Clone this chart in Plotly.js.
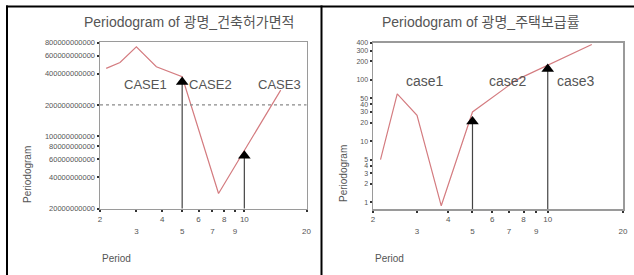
<!DOCTYPE html>
<html><head><meta charset="utf-8">
<script src="https://cdn.plot.ly/plotly-3.0.1.min.js"></script>
<style>html,body{margin:0;padding:0;background:#fff}#chart{width:634px;height:275px}</style>
</head><body><div id="chart"></div>
<script>
// ---- data ----
const periods = [2.143, 2.5, 3, 3.75, 5, 7.5, 15];
const permitArea = [451e9, 514e9, 726e9, 467e9, 374e9, 27.9e9, 278e9];   // 광명_건축허가면적
const supplyRate = [4.98, 59, 26.4, 0.88, 29.9, 100, 377];              // 광명_주택보급률
const casePeriods = [5, 10];
const permitCaseMarks = [333e9, 64.6e9];
const supplyCaseMarks = [21, 151];
const permitRefLine = 200e9;
const permitCaseLabels = ['CASE1', 'CASE2', 'CASE3'];
const supplyCaseLabels = ['case1', 'case2', 'case3'];
const titles = ['Periodogram of 광명_건축허가면적', 'Periodogram of 광명_주택보급률'];
const xTickVals = [2, 3, 4, 5, 6, 7, 8, 9, 10, 20];
const xTickRow1 = ['2', '', '4', '', '6', '', '8', '', '10', ''];
const xTickRow2Vals = [3, 5, 7, 9, 20];
const xTickRow2Text = ['3', '5', '7', '9', '20'];
const permitTickVals = [20e9, 40e9, 60e9, 80e9, 100e9, 200e9, 400e9, 600e9, 800e9];
const permitTickText = ['20000000000', '40000000000', '60000000000', '80000000000', '100000000000', '200000000000', '400000000000', '600000000000', '800000000000'];
const supplyTickVals = [1, 2, 3, 4, 5, 10, 20, 30, 40, 50, 100, 200, 300, 400];
const supplyTickText = ['1', '2', '3', '4', '5', '10', '20', '30', '40', '50', '100', '200', '300', '400'];

// ---- styling ----
const FONT = 'Liberation Sans, Arial, Noto Sans CJK KR, sans-serif';
const W = 634, H = 275;
const px = v => v / W, py = v => 1 - v / H;
const lineColor = '#d47c80';
const frame = '#9a9a9a';
const textGrey = '#555';

const leftDom = [px(100), px(306.5)];
const rightDom = [px(373), px(623)];
const yDomL = [py(208.5), py(42)];
const yDomR = [py(209), py(42.5)];

function xAxis(dom, anchor) {
  return {domain: dom, anchor: anchor, type: 'log', range: [Math.log10(2), Math.log10(20)],
    tickvals: xTickVals, ticktext: xTickRow1, ticks: 'outside', ticklen: 2, tickwidth: 2, tickcolor: '#333',
    showline: true, linecolor: frame, linewidth: 1.5, mirror: true, showgrid: false, zeroline: false,
    tickfont: {family: FONT, size: 8, color: textGrey}};
}
function xAxis2(dom, anchor, overlay) {
  return {domain: dom, anchor: anchor, overlaying: overlay, type: 'log', range: [Math.log10(2), Math.log10(20)],
    tickvals: xTickRow2Vals, ticktext: xTickRow2Text, ticks: '', showline: false, showgrid: false, zeroline: false,
    ticklabelstandoff: 16, tickfont: {family: FONT, size: 8, color: textGrey}};
}

const traces = [];
traces.push({x: periods, y: permitArea, xaxis: 'x', yaxis: 'y', mode: 'lines', line: {color: lineColor, width: 1.2}, hoverinfo: 'skip'});
traces.push({x: periods, y: supplyRate, xaxis: 'x2', yaxis: 'y2', mode: 'lines', line: {color: lineColor, width: 1.2}, hoverinfo: 'skip'});
// transparent copies so the overlay (second tick row) axes are drawn
traces.push({x: periods, y: permitArea, xaxis: 'x3', yaxis: 'y', mode: 'lines', line: {width: 0}, opacity: 0, hoverinfo: 'skip'});
traces.push({x: periods, y: supplyRate, xaxis: 'x4', yaxis: 'y2', mode: 'lines', line: {width: 0}, opacity: 0, hoverinfo: 'skip'});

const lowL = 1e9, lowR = 0.01;
casePeriods.forEach((p, i) => {
  traces.push({x: [p, p], y: [lowL, permitCaseMarks[i]], xaxis: 'x', yaxis: 'y', mode: 'lines', line: {color: '#444', width: 1.2}, hoverinfo: 'skip'});
  traces.push({x: [p, p], y: [lowR, supplyCaseMarks[i]], xaxis: 'x2', yaxis: 'y2', mode: 'lines', line: {color: '#444', width: 1.2}, hoverinfo: 'skip'});
});
traces.push({x: casePeriods, y: permitCaseMarks, xaxis: 'x', yaxis: 'y', mode: 'markers', marker: {symbol: 'triangle-up', size: 11, color: '#000'}, hoverinfo: 'skip'});
traces.push({x: casePeriods, y: supplyCaseMarks, xaxis: 'x2', yaxis: 'y2', mode: 'markers', marker: {symbol: 'triangle-up', size: 11, color: '#000'}, hoverinfo: 'skip'});

const annotations = [];
// titles
annotations.push({text: titles[0], xref: 'paper', yref: 'paper', x: px(189), y: py(22), xanchor: 'center', yanchor: 'middle', showarrow: false, font: {family: FONT, size: 14, color: textGrey}});
annotations.push({text: titles[1], xref: 'paper', yref: 'paper', x: px(481), y: py(22), xanchor: 'center', yanchor: 'middle', showarrow: false, font: {family: FONT, size: 14, color: textGrey}});
// axis titles
[[27, 175], [343, 174]].forEach(([ax, ay]) => annotations.push({text: 'Periodogram', textangle: -90, xref: 'paper', yref: 'paper', x: px(ax), y: py(ay), xanchor: 'center', yanchor: 'middle', showarrow: false, font: {family: FONT, size: 10, color: textGrey}}));
[[100, 258], [373, 258]].forEach(([ax, ay]) => annotations.push({text: 'Period', xref: 'paper', yref: 'paper', x: px(ax), y: py(ay), xanchor: 'left', yanchor: 'middle', showarrow: false, font: {family: FONT, size: 10, color: textGrey}}));
// case labels
const leftLabelPos = [[3.32, 312e9], [6.88, 312e9], [14.8, 312e9]];
const rightLabelPos = [[3.24, 97], [6.94, 97], [13.0, 97]];
permitCaseLabels.forEach((t, i) => annotations.push({text: t, xref: 'x', yref: 'y', x: Math.log10(leftLabelPos[i][0]), y: Math.log10(leftLabelPos[i][1]), xanchor: 'center', yanchor: 'middle', showarrow: false, font: {family: FONT, size: 13, color: textGrey}}));
supplyCaseLabels.forEach((t, i) => annotations.push({text: t, xref: 'x2', yref: 'y2', x: Math.log10(rightLabelPos[i][0]), y: Math.log10(rightLabelPos[i][1]), xanchor: 'center', yanchor: 'middle', showarrow: false, font: {family: FONT, size: 14, color: textGrey}}));

const shapes = [
  {type: 'line', xref: 'x domain', yref: 'y', x0: 0, x1: 1, y0: permitRefLine, y1: permitRefLine, line: {color: '#8a8a8a', width: 1.2, dash: 'dot'}},
  {type: 'line', xref: 'paper', yref: 'paper', x0: px(6), x1: 1, y0: py(6.5), y1: py(6.5), line: {color: '#000', width: 2}},
  {type: 'line', xref: 'paper', yref: 'paper', x0: px(7), x1: px(7), y0: 0, y1: py(5.5), line: {color: '#000', width: 2}},
  {type: 'line', xref: 'paper', yref: 'paper', x0: px(321.5), x1: px(321.5), y0: 0, y1: py(5.5), line: {color: '#000', width: 2}}
];

const layout = {
  width: W, height: H, margin: {l: 0, r: 0, t: 0, b: 0}, showlegend: false,
  paper_bgcolor: '#fff', plot_bgcolor: '#fff',
  xaxis: xAxis(leftDom, 'y'),
  xaxis2: xAxis(rightDom, 'y2'),
  xaxis3: xAxis2(leftDom, 'y', 'x'),
  xaxis4: xAxis2(rightDom, 'y2', 'x2'),
  yaxis: {domain: yDomL, anchor: 'x', type: 'log', range: [Math.log10(20e9), Math.log10(810e9)],
    tickvals: permitTickVals, ticktext: permitTickText, ticks: 'outside', ticklen: 2, tickwidth: 2, tickcolor: '#333',
    showline: true, linecolor: frame, linewidth: 1.5, mirror: true, showgrid: false, zeroline: false,
    tickfont: {family: FONT, size: 7.5, color: textGrey}},
  yaxis2: {domain: yDomR, anchor: 'x2', type: 'log', range: [-0.108, 2.61],
    tickvals: supplyTickVals, ticktext: supplyTickText, ticks: 'outside', ticklen: 2, tickwidth: 2, tickcolor: '#333',
    showline: true, linecolor: frame, linewidth: 1.5, mirror: true, showgrid: false, zeroline: false,
    tickfont: {family: FONT, size: 7, color: textGrey}},
  annotations: annotations, shapes: shapes
};
Plotly.newPlot('chart', traces, layout, {staticPlot: true, displayModeBar: false});
</script></body></html>
